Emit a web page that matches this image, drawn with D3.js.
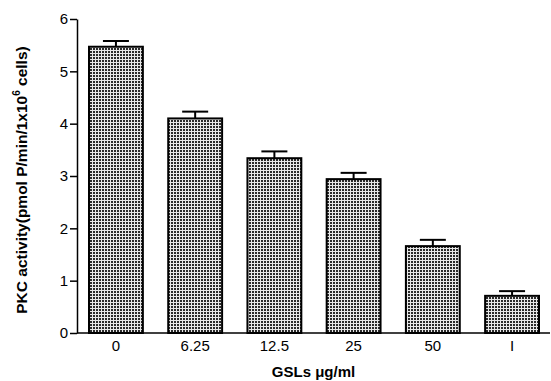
<!DOCTYPE html>
<html>
<head>
<meta charset="utf-8">
<script src="https://cdn.jsdelivr.net/npm/d3@7"></script>
<style>
  body { margin: 0; background: #fff; }
  svg { display: block; }
  text { font-family: "Liberation Sans", Arial, sans-serif; }
</style>
</head>
<body>
<div id="chart"></div>
<script>
// data
const doses = ["0", "6.25", "12.5", "25", "50", "I"];
const activity = [5.47, 4.10, 3.34, 2.94, 1.66, 0.71];
const errors = [0.11, 0.13, 0.13, 0.12, 0.12, 0.09];
const yTicks = [0, 1, 2, 3, 4, 5, 6];

const width = 551, height = 381;
const axisLeft = 77, axisRight = 550;
const yTop = 19, yBottom = 333;

const svg = d3.select("#chart")
  .append("svg")
  .attr("width", width)
  .attr("height", height);

// grid hatch fill, like the printed bars
const pat = svg.append("defs").append("pattern")
  .attr("id", "grid")
  .attr("width", 3)
  .attr("height", 3)
  .attr("patternUnits", "userSpaceOnUse");
pat.append("rect").attr("width", 3).attr("height", 3).attr("fill", "#2a2a2a");
pat.append("rect").attr("x", 0).attr("y", 2).attr("width", 3).attr("height", 1).attr("fill", "#e8e8e8");
pat.append("rect").attr("x", 2).attr("y", 0).attr("width", 1).attr("height", 3).attr("fill", "#e8e8e8");

const x = d3.scaleBand()
  .domain(doses)
  .range([89, 539])
  .paddingInner(0.32)
  .paddingOuter(0);

const y = d3.scaleLinear()
  .domain([0, 6])
  .range([yBottom, yTop]);

// Y axis
const yAxis = svg.append("g")
  .attr("transform", "translate(" + axisLeft + ",0)")
  .call(d3.axisLeft(y).tickValues(yTicks).tickFormat(d3.format("d")).tickSize(7).tickSizeOuter(0));
yAxis.select(".domain").attr("stroke", "#000").attr("stroke-width", 1.5);
yAxis.selectAll(".tick line").attr("stroke", "#000").attr("stroke-width", 1.5);
yAxis.selectAll(".tick text")
  .attr("font-size", 15)
  .attr("font-family", "Liberation Sans, Arial, sans-serif")
  .attr("fill", "#000")
  .attr("x", -9);

// bars
const bars = svg.append("g");
bars.selectAll("rect")
  .data(activity)
  .enter()
  .append("rect")
  .attr("x", (d, i) => x(doses[i]))
  .attr("y", d => y(d))
  .attr("width", x.bandwidth())
  .attr("height", d => y(0) - y(d))
  .attr("fill", "url(#grid)")
  .attr("stroke", "#000")
  .attr("stroke-width", 2);

// error bars (upper only)
const err = svg.append("g").attr("stroke", "#000").attr("stroke-width", 2);
activity.forEach((v, i) => {
  const cx = x(doses[i]) + x.bandwidth() / 2;
  err.append("line")
    .attr("x1", cx).attr("x2", cx)
    .attr("y1", y(v)).attr("y2", y(v + errors[i]));
  err.append("line")
    .attr("x1", cx - 13).attr("x2", cx + 13)
    .attr("y1", y(v + errors[i])).attr("y2", y(v + errors[i]));
});

// X axis line + labels
svg.append("line")
  .attr("x1", axisLeft).attr("x2", axisRight)
  .attr("y1", y(0)).attr("y2", y(0))
  .attr("stroke", "#000").attr("stroke-width", 1.5);

svg.append("g").selectAll("text")
  .data(doses)
  .enter()
  .append("text")
  .attr("x", d => x(d) + x.bandwidth() / 2)
  .attr("y", 351)
  .attr("text-anchor", "middle")
  .attr("font-size", 15)
  .text(d => d);

// axis titles
svg.append("text")
  .attr("x", (axisLeft + axisRight) / 2)
  .attr("y", 377)
  .attr("text-anchor", "middle")
  .attr("font-size", 15)
  .attr("font-weight", "bold")
  .text("GSLs \u03bcg/ml");

const yt = svg.append("text")
  .attr("transform", "translate(27,180) rotate(-90)")
  .attr("text-anchor", "middle")
  .attr("font-size", 15.5)
  .attr("font-weight", "bold");
yt.append("tspan").text("PKC activity(pmol P/min/1x10");
yt.append("tspan").attr("font-size", 10).attr("dy", -7).text("6");
yt.append("tspan").attr("dy", 7).text(" cells)");
</script>
</body>
</html>
